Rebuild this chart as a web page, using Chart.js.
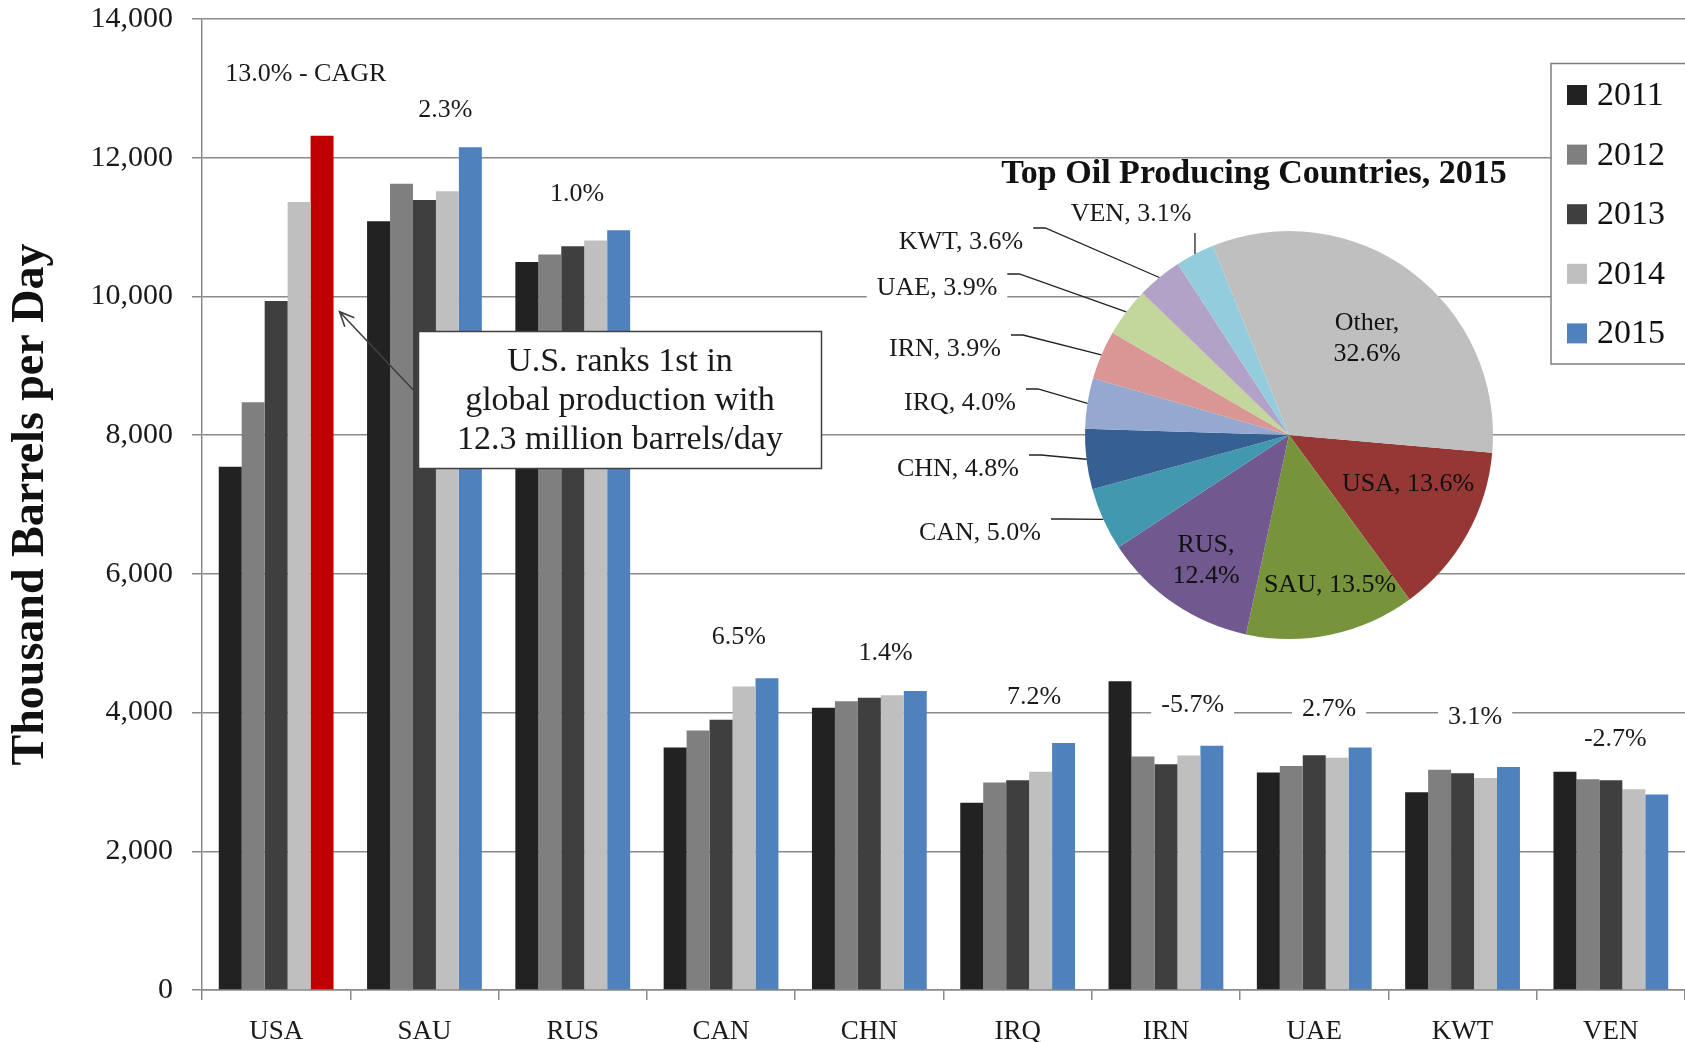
<!DOCTYPE html>
<html>
<head>
<meta charset="utf-8">
<script src="https://cdn.jsdelivr.net/npm/chart.js@4.4.1/dist/chart.umd.min.js"></script>
<style>
  html, body { margin: 0; padding: 0; background: #fff; overflow: hidden; }
  #wrap { position: relative; width: 1685px; height: 1042px; }
  #barChart { position: absolute; left: 0; top: 0; }
  #pieChart { position: absolute; left: 860px; top: 150px; }
</style>
</head>
<body>
<div id="wrap">
  <canvas id="barChart" width="1685" height="1042"></canvas>
  <canvas id="pieChart" width="660" height="520"></canvas>
</div>
<script>
// dane (tys. baryłek dziennie)
const countries = ['USA', 'SAU', 'RUS', 'CAN', 'CHN', 'IRQ', 'IRN', 'UAE', 'KWT', 'VEN'];
const years = ['2011', '2012', '2013', '2014', '2015'];
const prod2011 = [7545, 11085, 10495, 3495, 4070, 2700, 4450, 3135, 2850, 3145];
const prod2012 = [8475, 11625, 10605, 3740, 4165, 2990, 3365, 3230, 3175, 3040];
const prod2013 = [9935, 11390, 10725, 3895, 4215, 3025, 3255, 3385, 3125, 3025];
const prod2014 = [11360, 11515, 10805, 4375, 4250, 3145, 3380, 3350, 3055, 2895];
const prod2015 = [12315, 12150, 10955, 4495, 4310, 3560, 3520, 3495, 3215, 2820];
const cagr = [13.0, 2.3, 1.0, 6.5, 1.4, 7.2, -5.7, 2.7, 3.1, -2.7];
const yMin = 0, yMax = 14000, yStep = 2000;
const yTitle = 'Thousand Barrels per Day';
const noteLines = ['U.S. ranks 1st in', 'global production with', '12.3 million barrels/day'];

// wykres kołowy - udział w produkcji 2015
const pieTitle = 'Top Oil Producing Countries, 2015';
const pieLabels = ['USA', 'SAU', 'RUS', 'CAN', 'CHN', 'IRQ', 'IRN', 'UAE', 'KWT', 'VEN', 'Other'];
const pieShares = [13.6, 13.5, 12.4, 5.0, 4.8, 4.0, 3.9, 3.9, 3.6, 3.1, 32.6];

const SERIF = '"Liberation Serif", "DejaVu Serif", serif';
const barColors = ['#222222', '#7f7f7f', '#3f3f3f', '#bfbfbf', '#4f81bd'];
const usaHighlight = '#c00000';
const pieColors = ['#953735', '#77933c', '#71588f', '#4298af', '#365f92', '#95a9d0',
                   '#d99694', '#c3d69b', '#b3a2c7', '#93cddd', '#bfbfbf'];
const gridGray = '#8a8a8a';

const series = [prod2011, prod2012, prod2013, prod2014, prod2015];

// położenie etykiet CAGR: przesunięcie w kategoriach + wysokość w jednostkach osi Y
const cagrSpots = [
  [0.20, 13200], [0.14, 12690], [0.03, 11480], [0.12, 5090], [0.11, 4850],
  [0.11, 4215], [0.18, 4110], [0.10, 4050], [0.085, 3935], [0.03, 3620]
];

function whiteLabel(ctx, text, x, y, padX, h) {
  const w = ctx.measureText(text).width;
  ctx.fillStyle = '#fff';
  ctx.fillRect(x - w / 2 - padX, y - h / 2, w + padX * 2, h);
  ctx.fillStyle = '#1a1a1a';
  ctx.fillText(text, x, y);
}

const barExtras = {
  id: 'barExtras',
  afterDraw(chart) {
    const ctx = chart.ctx;
    const xs = chart.scales.x, ys = chart.scales.y;
    ctx.save();

    // etykiety CAGR
    ctx.font = `26px ${SERIF}`;
    ctx.textAlign = 'center';
    ctx.textBaseline = 'middle';
    cagr.forEach((v, i) => {
      const txt = v.toFixed(1) + '%' + (i === 0 ? ' - CAGR' : '');
      const x = xs.getPixelForValue(i + cagrSpots[i][0]);
      const y = ys.getPixelForValue(cagrSpots[i][1]);
      whiteLabel(ctx, txt, x, y, 10, 28);
    });

    // strzałka do słupka USA 2015
    const bar = chart.getDatasetMeta(4).data[0];
    const tipX = bar.x + bar.width / 2 + 6;
    const tipY = ys.getPixelForValue(9780);
    const fromX = 418, fromY = 395;
    ctx.strokeStyle = '#404040';
    ctx.lineWidth = 1.6;
    ctx.beginPath();
    ctx.moveTo(fromX, fromY);
    ctx.lineTo(tipX, tipY);
    const ang = Math.atan2(tipY - fromY, tipX - fromX);
    const head = 16;
    ctx.moveTo(tipX - head * Math.cos(ang - 0.42), tipY - head * Math.sin(ang - 0.42));
    ctx.lineTo(tipX, tipY);
    ctx.lineTo(tipX - head * Math.cos(ang + 0.42), tipY - head * Math.sin(ang + 0.42));
    ctx.stroke();

    // ramka z opisem
    ctx.fillStyle = '#fff';
    ctx.fillRect(418.5, 331.5, 403, 137);
    ctx.strokeStyle = '#404040';
    ctx.lineWidth = 1.5;
    ctx.strokeRect(418.5, 331.5, 403, 137);
    ctx.fillStyle = '#1a1a1a';
    ctx.font = `34px ${SERIF}`;
    noteLines.forEach((t, i) => ctx.fillText(t, 620, 362 + i * 39));

    // legenda
    ctx.fillStyle = '#fff';
    ctx.fillRect(1551, 63.5, 200, 300.5);
    ctx.strokeStyle = '#7f7f7f';
    ctx.strokeRect(1551, 63.5, 200, 300.5);
    ctx.textAlign = 'left';
    ctx.font = `34px ${SERIF}`;
    years.forEach((yr, i) => {
      const cy = 95 + i * 59.6;
      ctx.fillStyle = barColors[i];
      ctx.fillRect(1567, cy - 10, 20, 20);
      ctx.fillStyle = '#111';
      ctx.fillText(yr, 1597, cy + 1);
    });
    ctx.restore();
  }
};

new Chart(document.getElementById('barChart'), {
  type: 'bar',
  data: {
    labels: countries,
    datasets: years.map((yr, i) => ({
      label: yr,
      data: series[i],
      backgroundColor: i === 4 ? countries.map(c => c === 'USA' ? usaHighlight : barColors[i]) : barColors[i],
      borderWidth: 0,
      categoryPercentage: 0.774,
      barPercentage: 1
    }))
  },
  options: {
    responsive: false,
    animation: false,
    layout: { padding: { top: 19, right: 0, bottom: 0, left: 0 } },
    plugins: { legend: { display: false }, tooltip: { enabled: false } },
    scales: {
      x: {
        grid: { offset: true, drawOnChartArea: false, tickLength: 10, color: gridGray, lineWidth: 1.5 },
        border: { color: gridGray, width: 1.5 },
        ticks: { font: { family: SERIF, size: 27 }, color: '#1a1a1a', padding: 16, maxRotation: 0 },
        afterFit(s) { s.height = 52; }
      },
      y: {
        min: yMin,
        max: yMax,
        ticks: {
          stepSize: yStep,
          font: { family: SERIF, size: 30 },
          color: '#1a1a1a',
          padding: 19,
          callback: v => v.toLocaleString('en-US')
        },
        grid: { color: gridGray, lineWidth: 1.5, tickLength: 10 },
        border: { color: gridGray, width: 1.5 },
        title: {
          display: true,
          text: yTitle,
          font: { family: SERIF, size: 46, weight: 'bold' },
          color: '#111',
          padding: { top: 4, bottom: 0 }
        },
        afterFit(s) {
          s.width = 202;
          s.paddingTop = 10;
          s.paddingBottom = 0;
        }
      }
    }
  },
  plugins: [barExtras]
});

// rozmieszczenie etykiet koła względem środka
const pieSpots = {
  VEN: [-158, -221, 'out'], KWT: [-328, -193, 'out'], UAE: [-352, -147, 'out'],
  IRN: [-344, -86, 'out'], IRQ: [-329, -32, 'out'], CHN: [-331, 34, 'out'],
  CAN: [-309, 98, 'out'], Other: [78, -96, 'in2'], USA: [119, 49, 'in'],
  SAU: [41, 150, 'in'], RUS: [-83, 126, 'in2']
};

const pieExtras = {
  id: 'pieExtras',
  afterDraw(chart) {
    const ctx = chart.ctx;
    const arcs = chart.getDatasetMeta(0).data;
    const cx = arcs[0].x, cy = arcs[0].y, r = arcs[0].outerRadius;
    ctx.save();
    ctx.textBaseline = 'middle';
    ctx.textAlign = 'center';

    ctx.fillStyle = '#111';
    ctx.font = `bold 34px ${SERIF}`;
    ctx.fillText(pieTitle, cx - 35, cy - 261);

    ctx.font = `26px ${SERIF}`;
    pieLabels.forEach((lab, i) => {
      const [dx, dy, kind] = pieSpots[lab];
      const share = pieShares[i].toFixed(1) + '%';
      const tx = cx + dx, ty = cy + dy;
      if (kind === 'in') {
        ctx.fillStyle = '#111';
        ctx.fillText(lab + ', ' + share, tx, ty);
      } else if (kind === 'in2') {
        ctx.fillStyle = '#111';
        ctx.fillText(lab + ',', tx, ty - 15.5);
        ctx.fillText(share, tx, ty + 15.5);
      } else {
        const txt = lab + ', ' + share;
        whiteLabel(ctx, txt, tx, ty, 10, 28);
        const w = ctx.measureText(txt).width;
        const a = arcs[i];
        const mid = (a.startAngle + a.endAngle) / 2;
        const ex = cx + Math.cos(mid) * r, ey = cy + Math.sin(mid) * r;
        ctx.strokeStyle = '#222';
        ctx.lineWidth = 1.3;
        ctx.beginPath();
        if (lab === 'VEN') {
          ctx.moveTo(ex, ty + 19);
          ctx.lineTo(ex, ey);
        } else {
          const sx = tx + w / 2 + 10, sy = ty - 14;
          ctx.moveTo(sx, sy);
          ctx.lineTo(sx + 12, sy);
          ctx.lineTo(ex, ey);
        }
        ctx.stroke();
      }
    });
    ctx.restore();
  }
};

new Chart(document.getElementById('pieChart'), {
  type: 'pie',
  data: {
    labels: pieLabels,
    datasets: [{ data: pieShares, backgroundColor: pieColors, borderWidth: 0, rotation: 95 }]
  },
  options: {
    responsive: false,
    animation: false,
    rotation: 95,
    layout: { padding: { left: 225, top: 81, right: 27, bottom: 31 } },
    plugins: { legend: { display: false }, tooltip: { enabled: false } }
  },
  plugins: [pieExtras]
});
</script>
</body>
</html>
